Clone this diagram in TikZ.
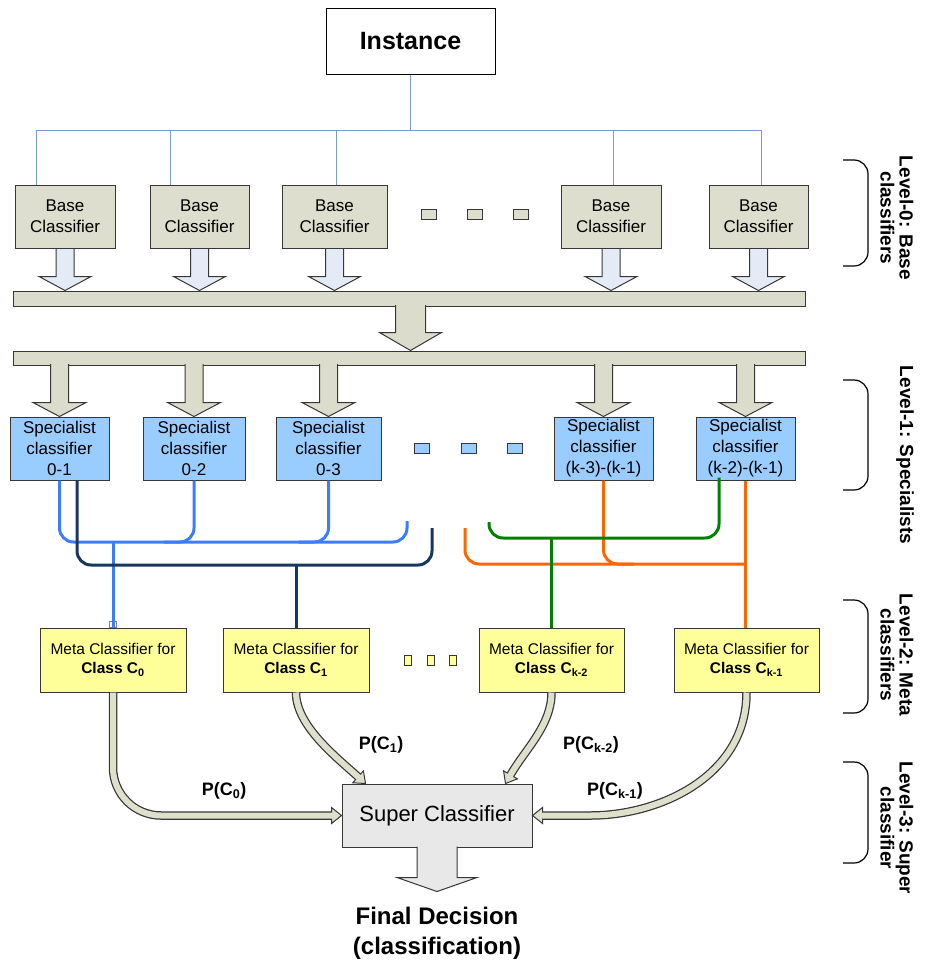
\documentclass[tikz,border=0pt]{standalone}
\usepackage{fontspec}
\setmainfont{Liberation Sans}
\usetikzlibrary{calc}
\definecolor{basec}{RGB}{221,222,205}
\definecolor{barc}{RGB}{219,220,203}
\definecolor{barr}{RGB}{228,235,246}
\definecolor{specc}{RGB}{153,204,255}
\definecolor{metac}{RGB}{255,255,153}
\definecolor{supc}{RGB}{232,232,232}
\definecolor{linec}{RGB}{120,155,215}
\definecolor{cblue}{RGB}{60,125,255}
\definecolor{cnavy}{RGB}{23,55,94}
\definecolor{corange}{RGB}{255,102,0}
\definecolor{cgreen}{RGB}{0,128,0}
\definecolor{edgec}{RGB}{55,55,55}
\definecolor{carrc}{RGB}{222,224,204}
\newcommand\fatdown[6]{%
  \path[#1] let \p1=(#2), \p2=(#3) in
   (\x1-#4pt,\y1) -- (\x1-#4pt,\y2+#6pt) -- (\x1-#5pt,\y2+#6pt) -- (\x1,\y2)
   -- (\x1+#5pt,\y2+#6pt) -- (\x1+#4pt,\y2+#6pt) -- (\x1+#4pt,\y1);}
\begin{document}
\begin{tikzpicture}[x=1pt,y=-1pt,
  box/.style={draw=edgec, line width=1pt, inner sep=0pt, align=center},
  basebox/.style={box, fill=basec, minimum height=63pt, font=\fontsize{17}{21}\selectfont},
  specbox/.style={box, fill=specc, minimum height=63pt, font=\fontsize{17}{21}\selectfont},
  metabox/.style={box, fill=metac, minimum height=64pt, font=\fontsize{15.5}{19}\selectfont},
  barbox/.style={box, fill=barc},
  dotb/.style={draw=edgec, line width=1pt},
  barrow/.style={fill=barr, draw=edgec, line width=1pt},
  sarrow/.style={fill=barc, draw=edgec, line width=1pt},
  treeline/.style={draw=linec, line width=0.9pt},
  conn/.style={line width=3pt, rounded corners=14pt},
  lw/.style={line width=3pt},
  carrout/.style={draw=edgec, line width=8.5pt},
  carrin/.style={draw=carrc, line width=6pt},
  headst/.style={fill=carrc, draw=edgec, line width=1pt, line join=miter},
  plab/.style={font=\fontsize{18}{20}\selectfont\bfseries, inner sep=0pt},
  lvl/.style={rotate=-90, align=center, font=\fontsize{19}{19}\selectfont\bfseries, inner sep=0pt},
  brk/.style={draw=black, line width=1.2pt, rounded corners=14pt}
]
\useasboundingbox (0,0) rectangle (927,964);

% instance
\node[box, draw=black, fill=white, minimum width=169pt, minimum height=66pt,
      font=\fontsize{25}{30}\selectfont\bfseries] (inst) at (410.5,41) {Instance};

% bars
\node[barbox, minimum width=792pt, minimum height=15pt] (bar1) at (409,298.5) {};
\node[barbox, minimum width=792pt, minimum height=14pt] (bar2) at (409,358) {};

% base classifier nodes
\node[basebox, minimum width=100pt] (b1) at (65,216.5) {Base\\Classifier};
\node[basebox, minimum width=99pt]  (b2) at (199.5,216.5) {Base\\Classifier};
\node[basebox, minimum width=105pt] (b3) at (334.5,216.5) {Base\\Classifier};
\node[basebox, minimum width=100pt] (b4) at (611,216.5) {Base\\Classifier};
\node[basebox, minimum width=99pt]  (b5) at (758.5,216.5) {Base\\Classifier};

% base arrows
\foreach \b in {b1,b2,b3,b4,b5}{
  \fatdown{barrow}{\b.south}{\b.south |- bar1.north}{9}{26}{14}
}
\foreach \b in {b1,b2,b3,b4,b5}{
  \draw[edgec, line width=1pt] (\b.south west) -- (\b.south east);
}

% bar to bar arrow
\fatdown{sarrow}{$(inst.south |- bar1.south)+(0,-1.5)$}{inst.south |- bar2.north}{15}{31}{18}

% specialist nodes
\node[specbox, minimum width=99pt]  (s1) at (59.5,448.5) {Specialist\\classifier\\0-1};
\node[specbox, minimum width=102pt] (s2) at (194,448.5) {Specialist\\classifier\\0-2};
\node[specbox, minimum width=105pt] (s3) at (328.5,448.5) {Specialist\\classifier\\0-3};
\node[specbox, minimum width=99pt]  (s4) at (603.5,448.5) {Specialist\\classifier\\(k-3)-(k-1)};
\node[specbox, minimum width=99pt]  (s5) at (745.5,448.5) {Specialist\\classifier\\(k-2)-(k-1)};

\foreach \s in {s1,s2,s3,s4,s5}{
  \fatdown{sarrow}{$(\s.north |- bar2.south)+(0,-1.5)$}{\s.north}{9}{26.5}{14}
}

% instance tree lines
\coordinate (hy) at (0,130);
\coordinate (d1) at ($(b1.north)+(-29,0)$);
\coordinate (d2) at ($(b2.north)+(-29.5,0)$);
\coordinate (d3) at ($(b3.north)+(1.5,0)$);
\coordinate (d4) at ($(b4.north)+(2,0)$);
\coordinate (d5) at ($(b5.north)+(2.5,0)$);
\draw[treeline] (inst.south) -- (inst.south |- hy);
\draw[treeline] (d1 |- hy) -- (d5 |- hy);
\foreach \d in {d1,d2,d3,d4,d5}{ \draw[treeline] (\d |- hy) -- (\d); }

% dots
\foreach \x in {421,467,513}{ \path[dotb, fill=basec] (\x,209) rectangle ++(15,10); }
\foreach \x in {414,461,507}{ \path[dotb, fill=specc] (\x,443) rectangle ++(15,10); }
\foreach \x in {404,427,449}{ \path[dotb, fill=metac] (\x,655) rectangle ++(7,10); }

% meta nodes
\node[metabox, minimum width=146pt] (m1) at (113,660) {Meta Classifier for\\\textbf{Class C\textsubscript{0}}};
\node[metabox, minimum width=146pt] (m2) at (296,660) {Meta Classifier for\\\textbf{Class C\textsubscript{1}}};
\node[metabox, minimum width=145pt] (m3) at (551.5,660) {Meta Classifier for\\\textbf{Class C\textsubscript{k-2}}};
\node[metabox, minimum width=145pt] (m4) at (746.5,660) {Meta Classifier for\\\textbf{Class C\textsubscript{k-1}}};

% super classifier
\node[box, fill=supc, minimum width=190pt, minimum height=63pt,
      font=\fontsize{22}{26}\selectfont] (sup) at (437,815.5) {Super Classifier};
\fatdown{sarrow, fill=supc}{$(sup.south)+(0,-1)$}{$(sup.south)+(0,44)$}{20}{40}{14}

% ---------- coloured connectors ----------
\coordinate (busA) at (0,542);
\coordinate (busB) at (0,565);
\coordinate (busC) at (0,564);
\coordinate (busD) at (0,538);
\coordinate (eA) at (407,521);
\coordinate (eB) at (432,528);
\coordinate (eC) at (465,528);
\coordinate (eD) at (489,522);

\draw[conn, cblue] (s1.south) -- (s1.south |- busA) -- (eA |- busA) -- (eA);
\draw[conn, cblue] (s2.south) -- (s2.south |- busA) -- ($(s2.south |- busA)+(-30,0)$);
\draw[conn, cblue] (s3.south) -- (s3.south |- busA) -- ($(s3.south |- busA)+(-30,0)$);
\draw[gray, fill=white, line width=0.8pt] ($(m1.north)+(-3.5,-6)$) rectangle ($(m1.north)+(3.5,0)$);
\draw[lw, cblue] (m1.north |- busA) -- (m1.north);

\coordinate (n1) at ($(s1.south)+(17.5,0)$);
\draw[conn, cnavy] (n1) -- (n1 |- busB) -- (eB |- busB) -- (eB);
\draw[lw, cnavy] (m2.north |- busB) -- (m2.north);

\draw[conn, corange] (eC) -- (eC |- busC) -- (m4.north |- busC);
\draw[conn, corange] (s4.south) -- (s4.south |- busC) -- ($(s4.south |- busC)+(30,0)$);
\draw[lw, corange] (s5.south) -- (s5.south |- m4.north);

\coordinate (g5) at ($(s5.south)+(-26.5,-3)$);
\draw[conn, cgreen] (eD) -- (eD |- busD) -- (g5 |- busD) -- (g5);
\draw[lw, cgreen] (m3.north |- busD) -- (m3.north);

% ---------- curved probability arrows ----------
% C0
\draw[carrout, rounded corners=48pt] (m1.south) -- (m1.south |- sup.west) -- ($(sup.west)+(-10,0)$);
\path[headst] (sup.west) -- ++(-10,-8) -- ++(0,16) -- cycle;
\draw[carrin, rounded corners=48pt] (m1.south) -- (m1.south |- sup.west) -- ($(sup.west)+(-7.5,0)$);
% Ck-1
\draw[carrout] (m4.south) .. controls ($(m4.south)+(0,83)$) and ($(sup.east)+(128,0)$) .. ($(sup.east)+(58,0)$) -- ($(sup.east)+(10,0)$);
\path[headst] (sup.east) -- ++(10,-8) -- ++(0,16) -- cycle;
\draw[carrin] (m4.south) .. controls ($(m4.south)+(0,83)$) and ($(sup.east)+(128,0)$) .. ($(sup.east)+(58,0)$) -- ($(sup.east)+(7.5,0)$);
% C1
\coordinate (tC1) at ($(sup.north west)+(24,0)$);
\draw[carrout] (m2.south) .. controls ($(m2.south)+(0,33)$) and ($(tC1)+(-29.7,-26.8)$) .. ($(tC1)+(-7.43,-6.69)$);
\begin{scope}[shift={(tC1)}, rotate=-42]
  \path[headst] (0,0) -- (-10,-8) -- (-10,8) -- cycle;
\end{scope}
\draw[carrin] (m2.south) .. controls ($(m2.south)+(0,33)$) and ($(tC1)+(-29.7,-26.8)$) .. ($(tC1)+(-7.43,-6.69)$) -- ($(tC1)+(-5.57,-5.02)$);
% Ck-2
\coordinate (tC2) at ($(sup.north east)+(-27,0)$);
\draw[carrout] (m3.south) .. controls ($(m3.south)+(0,33)$) and ($(tC2)+(20,-34.64)$) .. ($(tC2)+(5,-8.66)$);
\begin{scope}[shift={(tC2)}, rotate=-120]
  \path[headst] (0,0) -- (-10,-8) -- (-10,8) -- cycle;
\end{scope}
\draw[carrin] (m3.south) .. controls ($(m3.south)+(0,33)$) and ($(tC2)+(20,-34.64)$) .. ($(tC2)+(5,-8.66)$) -- ($(tC2)+(3.75,-6.5)$);

% labels
\node[plab] (p0) at (224,791) {P(C\textsubscript{0})};
\node[plab] (p1) at (381,745) {P(C\textsubscript{1})};
\node[plab] (p2) at (591,745) {P(C\textsubscript{k-2})};
\node[plab] (p3) at (615,791) {P(C\textsubscript{k-1})};

\node[align=center, font=\fontsize{24}{30}\selectfont\bfseries] (fin) at (437,933) {Final Decision\\(classification)};

% level brackets
\draw[brk] (843,160) -- (868,160) -- (868,266) -- (843,266);
\draw[brk] (843,380) -- (868,380) -- (868,490) -- (843,490);
\draw[brk] (843,600) -- (868,600) -- (868,713) -- (843,713);
\draw[brk] (843,762) -- (868,762) -- (868,863) -- (843,863);
\node[lvl] (l0) at (897,218) {Level-0: Base\\classifiers};
\node[lvl] (l1) at (905,455) {Level-1: Specialists};
\node[lvl] (l2) at (897,655) {Level-2: Meta\\classifiers};
\node[lvl] (l3) at (897,828) {Level-3: Super\\classifier};
\end{tikzpicture}
\end{document}
